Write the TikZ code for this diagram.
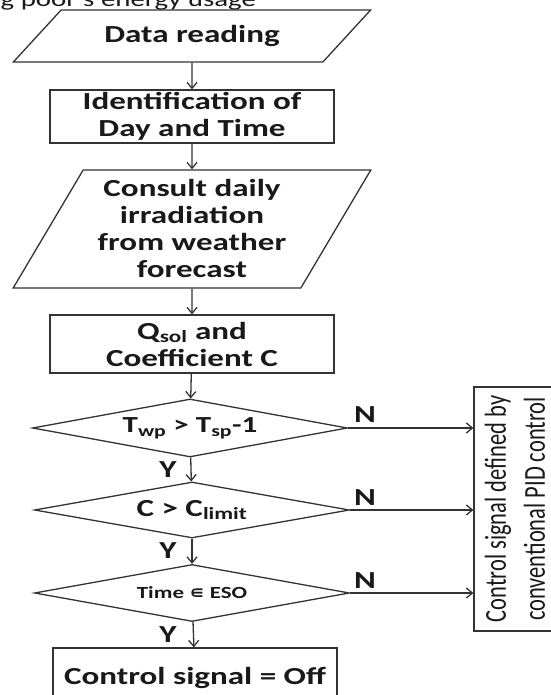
\documentclass[tikz,border=0pt]{standalone}
\usepackage{fontspec}
\setmainfont{Carlito}[FakeStretch=1.35]
\newfontfamily\pidfont{Carlito}[FakeStretch=0.74]
\newfontfamily\elemfont{DejaVu Sans}[FakeStretch=1.2]
\usetikzlibrary{shapes.geometric,arrows.meta}
\definecolor{flowline}{gray}{0.2}
\definecolor{flowtext}{gray}{0.1}
\tikzset{
  flowbox/.style={draw=flowline, rectangle, minimum width=284pt, minimum height=53pt, inner sep=2pt, align=center},
  iobox/.style={draw=flowline, trapezium, trapezium stretches=true, minimum width=358pt, inner sep=1pt, align=center},
  testbox/.style={draw=flowline, diamond, aspect=5.4, inner sep=0pt, minimum width=315pt, minimum height=58pt}
}

\begin{document}
\begin{tikzpicture}[x=1pt,y=1pt,line width=1.3pt]
  \useasboundingbox (0,0) rectangle (550,695);
  \node[anchor=base west, inner sep=0pt, text=flowtext, font=\fontsize{21.4}{26}\selectfont] (title) at (0,688) {g poor's energy usage};
  \begin{scope}[every node/.style={text=flowtext, font=\fontsize{24.5}{27}\selectfont\bfseries}]
    \node[iobox, trapezium left angle=35.8, trapezium right angle=144.2, minimum height=52pt] (read) at (192,659) {Data reading};
    \node[flowbox] (ident) at (192,578.5) {Identification of\\Day and Time};
    \node[iobox, trapezium left angle=58.6, trapezium right angle=121.4, minimum height=118pt] (consult) at (192,466) {Consult daily\\irradiation\\from weather\\forecast};
    \node[flowbox, minimum height=58pt] (qsol) at (192,351) {Q\textsubscript{sol} and\\Coefficient C};
    \node[testbox, font=\fontsize{23}{27}\selectfont\bfseries] (twp) at (190,267) {T\textsubscript{wp} > T\textsubscript{sp}-1};
    \node[testbox, minimum height=56pt] (clim) at (192,185) {C > C\textsubscript{limit}};
    \node[testbox, minimum height=57pt, font=\fontsize{17}{20}\selectfont\bfseries] (eso) at (192,102) {Time {\elemfont ∊} ESO};
    \node[flowbox, minimum height=60pt] (off) at (195,17) {Control signal = Off};
    \node[draw=flowline, rectangle, minimum width=87pt, minimum height=244pt, inner sep=0pt] (pid) at (517.5,186)
      {\rotatebox{90}{\pidfont\mdseries\fontsize{30.4}{39}\selectfont\begin{tabular}{@{}c@{}}Control signal defined by\\conventional PID control\end{tabular}}};
    \node (y1) at (168,225) {Y};
    \node (y2) at (168,144) {Y};
    \node (y3) at (168,60) {Y};
    \node (n1) at (365,280) {N};
    \node (n2) at (365,197) {N};
    \node (n3) at (365,114) {N};
  \end{scope}
  \begin{scope}[every edge/.style={draw=flowline, line width=1.3pt, -{Straight Barb[length=6pt,width=10pt]}}]
    \path (read) edge (ident);
    \path (ident) edge (consult);
    \path (consult) edge (qsol);
    \path (qsol) edge (twp);
    \path (twp) edge (clim);
    \path (clim) edge (eso);
    \path (eso) edge (off);
    \path (twp.east) edge (twp.east -| pid.west);
    \path (clim.east) edge (clim.east -| pid.west);
    \path (eso.east) edge (eso.east -| pid.west);
  \end{scope}
\end{tikzpicture}
\end{document}
